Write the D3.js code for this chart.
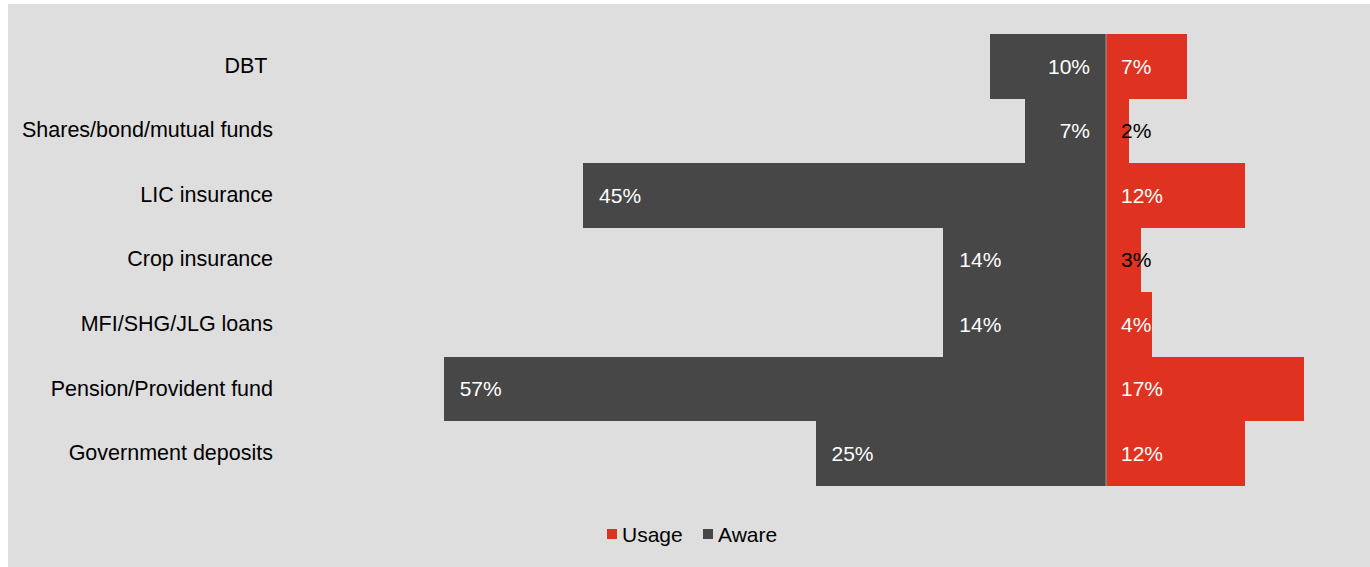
<!DOCTYPE html>
<html>
<head>
<meta charset="utf-8">
<script src="https://cdn.jsdelivr.net/npm/d3@7"></script>
<style>
  html, body { margin: 0; padding: 0; background: #ffffff; }
  svg { display: block; }
  text { font-family: "Liberation Sans", Arial, sans-serif; }
</style>
</head>
<body>
<svg id="chart" width="1370" height="567"></svg>
<script>
// Financial products: awareness vs usage (%)
const categories = [
  "DBT ",
  "Shares/bond/mutual funds",
  "LIC insurance",
  "Crop insurance",
  "MFI/SHG/JLG loans",
  "Pension/Provident fund",
  "Government deposits"
];
const aware = [10, 7, 45, 14, 14, 57, 25];
const usage = [7, 2, 12, 3, 4, 17, 12];
const legendLabels = ["Usage", "Aware"];

const colors = { usage: "#e03220", aware: "#474747", bg: "#dedede" };

const W = 1370, H = 567;
const svg = d3.select("#chart");

// panel background
svg.append("rect")
  .attr("x", 8).attr("y", 4)
  .attr("width", W - 8).attr("height", H - 4)
  .attr("fill", colors.bg);

// aware extends to the left of zero, usage to the right
const x = d3.scaleLinear().domain([-60, 20]).range([408.8, 1338.4]);
const y = d3.scaleBand().domain(categories).range([34, 486]).padding(0);

const rows = categories.map((c, i) => ({ c, aware: aware[i], usage: usage[i] }));
const fontSize = 21;

// aware bars
svg.append("g").attr("shape-rendering", "crispEdges").selectAll("rect")
  .data(rows).join("rect")
  .attr("x", d => x(-d.aware))
  .attr("y", d => y(d.c))
  .attr("width", d => x(0) - x(-d.aware))
  .attr("height", y.bandwidth())
  .attr("fill", colors.aware);

// usage bars
svg.append("g").attr("shape-rendering", "crispEdges").selectAll("rect")
  .data(rows).join("rect")
  .attr("x", x(0))
  .attr("y", d => y(d.c))
  .attr("width", d => x(d.usage) - x(0))
  .attr("height", y.bandwidth())
  .attr("fill", colors.usage);

// zero line
svg.append("line")
  .attr("x1", x(0)).attr("x2", x(0))
  .attr("y1", y.range()[0]).attr("y2", y.range()[1])
  .attr("stroke", "#9a9a9a").attr("stroke-width", 1);

// aware value labels
svg.append("g").selectAll("text")
  .data(rows).join("text")
  .attr("x", d => d.aware < 12 ? x(0) - 16 : x(-d.aware) + 16)
  .attr("y", d => y(d.c) + y.bandwidth() / 2)
  .attr("dy", "0.35em")
  .attr("text-anchor", d => d.aware < 12 ? "end" : "start")
  .attr("font-size", fontSize)
  .attr("fill", "#ffffff")
  .text(d => d.aware + "%");

// usage value labels
svg.append("g").selectAll("text")
  .data(rows).join("text")
  .attr("x", x(0) + 15)
  .attr("y", d => y(d.c) + y.bandwidth() / 2)
  .attr("dy", "0.35em")
  .attr("text-anchor", "start")
  .attr("font-size", fontSize)
  .attr("fill", d => d.usage <= 3 ? "#000000" : "#ffffff")
  .text(d => d.usage + "%");

// category axis
const yAxis = d3.axisLeft(y).tickSize(0).tickPadding(0);
const gy = svg.append("g")
  .attr("transform", "translate(273,0)")
  .call(yAxis);
gy.select(".domain").remove();
gy.selectAll("text")
  .attr("font-size", 21.5)
  .attr("font-family", "Liberation Sans, Arial, sans-serif")
  .attr("fill", "#000000")
  .attr("dy", "0.3em")
  .style("white-space", "pre")
  .attr("xml:space", "preserve");

// legend
const legend = svg.append("g");
const legendItems = [
  { label: legendLabels[0], color: colors.usage, x: 607 },
  { label: legendLabels[1], color: colors.aware, x: 703 }
];
legendItems.forEach(it => {
  legend.append("rect")
    .attr("x", it.x).attr("y", 529)
    .attr("width", 10).attr("height", 10)
    .attr("fill", it.color);
  legend.append("text")
    .attr("x", it.x + 15).attr("y", 542)
    .attr("font-size", fontSize)
    .attr("fill", "#000000")
    .text(it.label);
});
</script>
</body>
</html>
